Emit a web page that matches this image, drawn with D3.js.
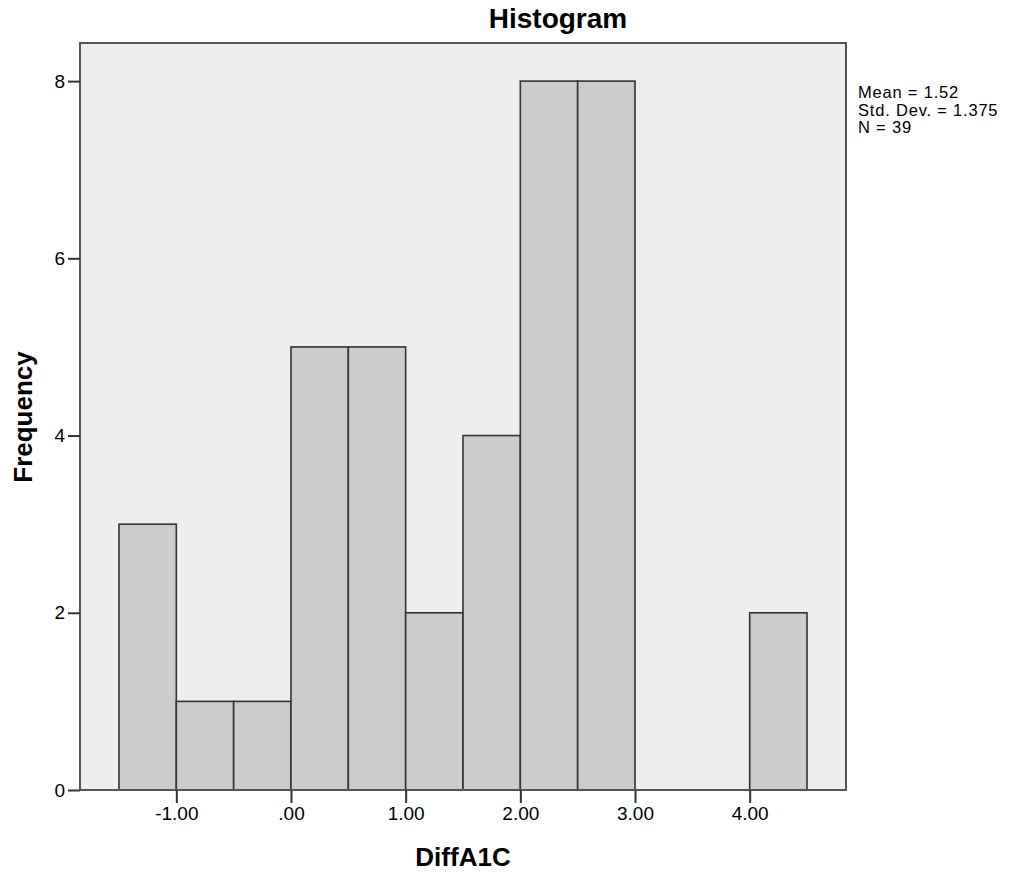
<!DOCTYPE html>
<html>
<head>
<meta charset="utf-8">
<script src="https://cdn.jsdelivr.net/npm/d3@7"></script>
<style>
body { margin: 0; background: #fff; }
svg text { font-family: Arial, "Liberation Sans", sans-serif; fill: #000; }
</style>
</head>
<body>
<svg id="chart" width="1017" height="877"></svg>
<script>
// bins of DiffA1C (width .5) and their counts
var binStart = [-1.5, -1.0, -0.5, 0.0, 0.5, 1.0, 1.5, 2.0, 2.5, 3.0, 3.5, 4.0];
var counts   = [3, 1, 1, 5, 5, 2, 4, 8, 8, 0, 0, 2];
var binWidth = 0.5;
var xTicks = [-1, 0, 1, 2, 3, 4];
var yTicks = [0, 2, 4, 6, 8];
var stats = ["Mean = 1.52", "Std. Dev. = 1.375", "N = 39"];

drawChart();

function drawChart(){
var svg = d3.select("#chart");
var pLeft = 80, pRight = 846, pTop = 43, pBottom = 790;

var x = d3.scaleLinear().domain([-1.84, 4.84]).range([pLeft, pRight]);
var y = d3.scaleLinear().domain([0, 8.43]).range([pBottom, pTop]);

// plot background
svg.append("rect")
  .attr("x", pLeft).attr("y", pTop)
  .attr("width", pRight - pLeft).attr("height", pBottom - pTop)
  .attr("fill", "#eeeeee")

var bins = binStart.map(function(s, i){ return {x0: s, x1: s + binWidth, n: counts[i]}; })
  .filter(function(d){ return d.n > 0; });

svg.append("g").selectAll("rect")
  .data(bins)
  .enter().append("rect")
  .attr("x", function(d){ return x(d.x0); })
  .attr("y", function(d){ return y(d.n); })
  .attr("width", function(d){ return x(d.x1) - x(d.x0); })
  .attr("height", function(d){ return y(0) - y(d.n); })
  .attr("fill", "#cccccc")
  .attr("stroke", "#333")
  .attr("stroke-width", 1.6)

// frame
svg.append("rect")
  .attr("x", pLeft).attr("y", pTop)
  .attr("width", pRight - pLeft).attr("height", pBottom - pTop)
  .attr("fill", "none")
  .attr("stroke", "#555")
  .attr("stroke-width", 2)

var fmtX = function(d){
  if (d == 0) return ".00";
  return d3.format(".2f")(d).replace("\u2212", "-");
};

var xAxis = svg.append("g")
  .attr("transform", "translate(0," + pBottom + ")")
  .call(d3.axisBottom(x).tickValues(xTicks).tickSize(13).tickPadding(4).tickFormat(fmtX));

var yAxis = svg.append("g")
  .attr("transform", "translate(" + pLeft + ",0)")
  .call(d3.axisLeft(y).tickValues(yTicks).tickSize(12).tickPadding(3).tickFormat(d3.format("d")));

[xAxis, yAxis].forEach(function(a){
  a.select(".domain").remove();
  a.selectAll("line").attr("stroke", "#333").attr("stroke-width", 2);
  a.selectAll("text").style("font-family", "Arial, 'Liberation Sans', sans-serif")
    .style("font-size", "19px").attr("fill", "#222");
});

svg.append("text")
  .attr("x", 558).attr("y", 28)
  .attr("text-anchor", "middle")
  .style("font-size", "28px").style("font-weight", "bold")
  .text("Histogram")

svg.append("text")
  .attr("x", 463).attr("y", 866)
  .attr("text-anchor", "middle")
  .style("font-size", "26px").style("font-weight", "bold")
  .text("DiffA1C")

svg.append("text")
  .attr("transform", "translate(32," + 417 + ") rotate(-90)")
  .attr("text-anchor", "middle")
  .style("font-size", "26px").style("font-weight", "bold")
  .text("Frequency")

// summary statistics next to the plot
svg.append("g").selectAll("text")
  .data(stats)
  .enter().append("text")
  .attr("x", 858)
  .attr("y", function(d, i){ return 98 + i * 17.5; })
  .style("font-size", "16.5px")
  .style("letter-spacing", "0.8px")
  .attr("fill", "#222")
  .text(function(d){ return d; })
}
</script>
</body>
</html>
